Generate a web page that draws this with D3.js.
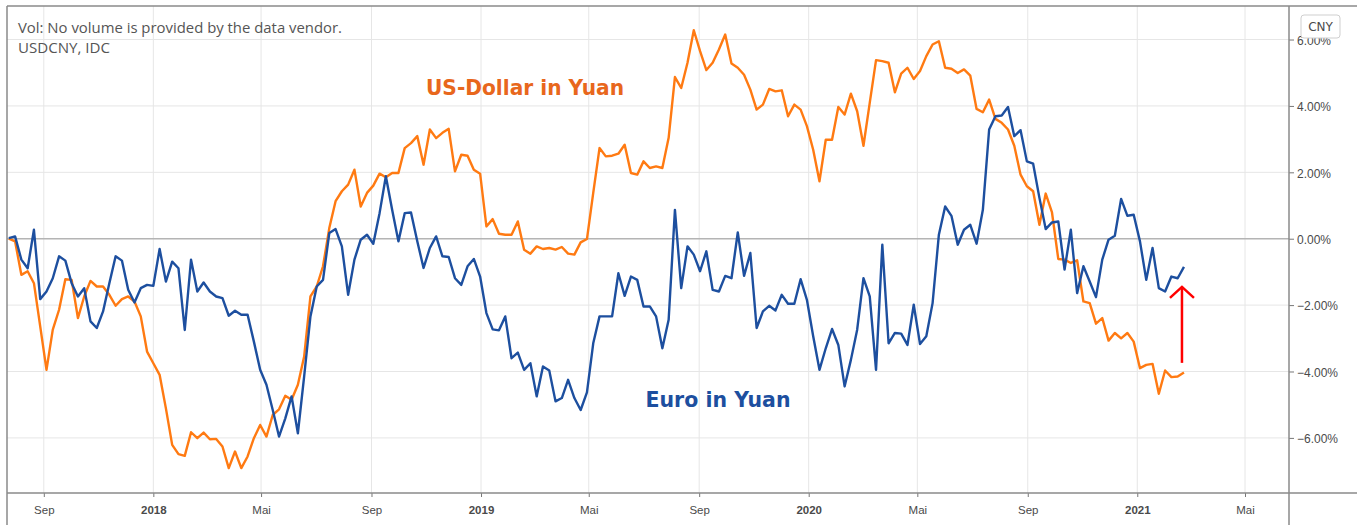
<!DOCTYPE html>
<html>
<head>
<meta charset="utf-8">
<script src="https://cdn.jsdelivr.net/npm/d3@7"></script>
<style>
  body { margin: 0; background: #fff; }
</style>
</head>
<body>
<div id="chart"></div>
<script>
// weekly closes, % change against the first week (late Jul 2017)
const startWeek = new Date(2017, 6, 24);

const usdCny = [
  0, -0.08, -1.09, -0.98, -1.34, -2.64, -3.95, -2.74, -2.14, -1.22,
  -1.24, -2.39, -1.74, -1.27, -1.44, -1.44, -1.69, -2.02, -1.82, -1.74,
  -1.89, -2.34, -3.40, -3.75, -4.10, -5.11, -6.21, -6.49, -6.54, -5.83,
  -6.01, -5.84, -6.04, -6.03, -6.26, -6.91, -6.41, -6.91, -6.56, -6.01,
  -5.61, -5.96, -5.31, -5.14, -4.73, -4.85, -4.40, -3.55, -1.74, -1.44,
  -0.83, 0.32, 1.13, 1.43, 1.63, 2.08, 0.97, 1.38, 1.60, 1.96,
  1.85, 1.98, 1.98, 2.73, 2.88, 3.09, 2.23, 3.29, 3.03, 3.19,
  3.31, 2.03, 2.53, 2.50, 2.08, 1.96, 0.37, 0.59, 0.15, 0.12,
  0.12, 0.52, -0.33, -0.45, -0.23, -0.31, -0.28, -0.33, -0.25, -0.45,
  -0.48, -0.11, -0.01, 1.38, 2.73, 2.48, 2.50, 2.56, 2.83, 1.98,
  1.93, 2.33, 2.13, 2.18, 2.13, 3.04, 4.87, 4.54, 5.30, 6.28,
  5.65, 5.08, 5.30, 5.70, 6.15, 5.28, 5.15, 4.94, 4.49, 3.89,
  4.04, 4.51, 4.44, 4.47, 3.69, 4.04, 3.89, 3.39, 2.68, 1.73,
  2.98, 2.98, 3.97, 3.74, 4.37, 3.84, 2.80, 4.09, 5.38, 5.35,
  5.30, 4.41, 4.97, 5.15, 4.81, 5.05, 5.50, 5.85, 5.95, 5.15,
  5.12, 4.99, 5.10, 4.91, 3.91, 3.81, 4.19, 3.61, 3.49, 3.29,
  2.80, 1.93, 1.58, 1.43, 0.42, 1.36, 0.79, -0.61, -0.63, -0.73,
  -0.65, -1.89, -1.94, -2.56, -2.39, -3.07, -2.84, -3.00, -2.84, -3.10,
  -3.90, -3.80, -3.77, -4.67, -3.97, -4.17, -4.15, -4.03
];

const eurCny = [
  0.02, 0.07, -0.63, -0.89, 0.27, -1.82, -1.59, -1.19, -0.53, -0.66,
  -1.34, -1.74, -1.49, -2.49, -2.69, -2.19, -1.34, -0.53, -0.66, -1.54,
  -1.92, -1.49, -1.39, -1.42, -0.31, -1.29, -0.69, -0.89, -2.75, -0.63,
  -1.59, -1.32, -1.59, -1.74, -1.79, -2.32, -2.17, -2.29, -2.29, -3.10,
  -3.95, -4.40, -5.16, -5.96, -5.41, -4.75, -5.86, -4.15, -2.34, -1.44,
  -1.24, 0.17, 0.29, -0.23, -1.69, -0.63, -0.03, 0.12, -0.15, 0.77,
  1.88, 0.87, -0.08, 0.77, 0.79, -0.08, -0.88, -0.28, 0.07, -0.53,
  -0.55, -1.19, -1.39, -0.83, -0.61, -1.14, -2.24, -2.73, -2.76, -2.34,
  -3.60, -3.43, -3.95, -3.75, -4.75, -3.85, -3.97, -4.90, -4.80, -4.25,
  -4.80, -5.16, -4.63, -3.15, -2.34, -2.34, -2.34, -1.04, -1.72, -1.14,
  -1.24, -2.04, -2.04, -2.34, -3.30, -2.44, 0.87, -1.49, -0.23, -0.48,
  -0.98, -0.38, -1.54, -1.59, -1.12, -1.19, 0.19, -1.12, -0.43, -2.69,
  -2.19, -2.02, -2.16, -1.69, -1.96, -1.96, -1.22, -1.84, -2.94, -3.95,
  -3.30, -2.72, -3.20, -4.45, -3.65, -2.74, -1.19, -1.74, -3.95, -0.18,
  -3.15, -2.84, -2.86, -3.20, -1.99, -3.17, -2.94, -1.94, 0.12, 0.97,
  0.69, -0.18, 0.27, 0.42, -0.15, 0.87, 3.29, 3.69, 3.71, 3.97,
  3.09, 3.27, 2.33, 2.26, 1.23, 0.29, 0.49, 0.52, -0.93, 0.27,
  -1.64, -0.83, -1.29, -1.76, -0.63, -0.03, 0.09, 1.20, 0.69, 0.72,
  -0.08, -1.24, -0.28, -1.49, -1.59, -1.14, -1.19, -0.85
];

const yTicks = [-6, -4, -2, 0, 2, 4, 6];
const xTicks = [
  new Date(2017, 8, 1), new Date(2018, 0, 1), new Date(2018, 4, 1), new Date(2018, 8, 1),
  new Date(2019, 0, 1), new Date(2019, 4, 1), new Date(2019, 8, 1), new Date(2020, 0, 1),
  new Date(2020, 4, 1), new Date(2020, 8, 1), new Date(2021, 0, 1), new Date(2021, 4, 1)
];
const monthLabels = { 4: 'Mai', 8: 'Sep' };

// text annotations, in data units
const seriesLabels = [
  { text: 'US-Dollar in Yuan', date: new Date(2019, 1, 19), value: 4.33, color: '#e8671c', len: 198 },
  { text: 'Euro in Yuan', date: new Date(2019, 8, 22), value: -5.07, color: '#1d4f9f', len: 145 }
];
const arrowFrom = -3.74;
const arrowTo = -1.45;

const weeks = usdCny.map((d, i) => d3.timeDay.offset(startWeek, 7 * i));

// layout
const width = 1357;
const height = 525;
const plot = { left: 7, right: 1289, top: 6, bottom: 493 };

const xScale = d3.scaleTime()
  .domain([new Date(2017, 6, 22), new Date(2021, 5, 19)])
  .range([plot.left, plot.right]);

const yScale = d3.scaleLinear()
  .domain([-7.66, 7.01])
  .range([plot.bottom, plot.top]);

const svg = d3.select('#chart')
  .append('svg')
  .attr('width', width)
  .attr('height', height)
  .style('font-family', '"DejaVu Sans", sans-serif');

svg.append('rect')
  .attr('width', width)
  .attr('height', height)
  .attr('fill', '#fff');

svg.append('clipPath')
  .attr('id', 'plot-clip')
  .append('rect')
  .attr('x', plot.left)
  .attr('y', plot.top)
  .attr('width', plot.right - plot.left)
  .attr('height', plot.bottom - plot.top);

// grid
svg.append('g')
  .selectAll('line')
  .data(xTicks)
  .join('line')
  .attr('x1', d => xScale(d))
  .attr('x2', d => xScale(d))
  .attr('y1', plot.top)
  .attr('y2', plot.bottom)
  .attr('stroke', '#e6e6e6')
  .attr('stroke-width', 1);

svg.append('g')
  .selectAll('line')
  .data(yTicks)
  .join('line')
  .attr('x1', plot.left)
  .attr('x2', plot.right)
  .attr('y1', d => yScale(d))
  .attr('y2', d => yScale(d))
  .attr('stroke', d => d === 0 ? '#b4b4b4' : '#e6e6e6')
  .attr('stroke-width', d => d === 0 ? 1.5 : 1);

// lines
const line = d3.line()
  .x((d, i) => xScale(weeks[i]))
  .y(d => yScale(d));

const lines = svg.append('g').attr('clip-path', 'url(#plot-clip)');

lines.append('path')
  .datum(usdCny)
  .attr('d', line)
  .attr('fill', 'none')
  .attr('stroke', '#ff7a12')
  .attr('stroke-width', 2.4)
  .attr('stroke-linejoin', 'round');

lines.append('path')
  .datum(eurCny)
  .attr('d', line)
  .attr('fill', 'none')
  .attr('stroke', '#1d4f9f')
  .attr('stroke-width', 2.4)
  .attr('stroke-linejoin', 'round');

// series labels
svg.append('g')
  .selectAll('text')
  .data(seriesLabels)
  .join('text')
  .attr('x', d => xScale(d.date))
  .attr('y', d => yScale(d.value))
  .attr('text-anchor', 'middle')
  .attr('textLength', d => d.len)
  .attr('lengthAdjust', 'spacingAndGlyphs')
  .style('font-size', '22px')
  .style('font-weight', 'bold')
  .style('fill', d => d.color)
  .text(d => d.text);

// red arrow at the last week
const ax = xScale(weeks[weeks.length - 1]) - 2;
const arrow = svg.append('g')
  .attr('stroke', '#ff0000')
  .attr('stroke-width', 2.5)
  .attr('fill', 'none');
arrow.append('line')
  .attr('x1', ax).attr('x2', ax)
  .attr('y1', yScale(arrowFrom))
  .attr('y2', yScale(arrowTo));
arrow.append('path')
  .attr('d', `M${ax - 12},${yScale(arrowTo) + 11} L${ax},${yScale(arrowTo)} L${ax + 12},${yScale(arrowTo) + 11}`);

// right axis
const yAxis = d3.axisRight(yScale)
  .tickValues(yTicks)
  .tickSize(5)
  .tickPadding(3)
  .tickFormat(d => d3.format('.2f')(d) + '%');

const yAxisG = svg.append('g')
  .attr('transform', `translate(${plot.right}, 0)`)
  .call(yAxis);
yAxisG.select('.domain').remove();
yAxisG.selectAll('line').attr('stroke', '#777');
yAxisG.selectAll('text')
  .attr('dy', '0.4em')
  .style('font-size', '12px')
  .style('fill', '#4a4a4a');

// bottom axis
const xAxis = d3.axisBottom(xScale)
  .tickValues(xTicks)
  .tickSize(4)
  .tickPadding(9)
  .tickFormat(d => d.getMonth() === 0 ? d.getFullYear() : monthLabels[d.getMonth()]);

const xAxisG = svg.append('g')
  .attr('transform', `translate(0, ${plot.bottom})`)
  .call(xAxis);
xAxisG.select('.domain').remove();
xAxisG.selectAll('line').attr('stroke', '#777');
xAxisG.selectAll('text')
  .style('font-size', '11.5px')
  .style('fill', '#4a4a4a')
  .style('font-weight', d => d.getMonth() === 0 ? 'bold' : 'normal');

// frame
const frame = svg.append('g').attr('stroke', '#8a8a8a').attr('stroke-width', 1.5);
frame.append('line').attr('x1', plot.left).attr('x2', width).attr('y1', plot.top).attr('y2', plot.top);
frame.append('line').attr('x1', plot.left).attr('x2', width).attr('y1', plot.bottom).attr('y2', plot.bottom);
frame.append('line').attr('x1', plot.left).attr('x2', plot.left).attr('y1', plot.top).attr('y2', height);
frame.append('line').attr('x1', plot.right).attr('x2', plot.right).attr('y1', plot.top).attr('y2', height);

// currency badge (covers the top of the 6.00% label, as in the original)
svg.append('rect')
  .attr('x', plot.right + 12)
  .attr('y', 15)
  .attr('width', 39)
  .attr('height', 23)
  .attr('rx', 3)
  .attr('fill', '#fff')
  .attr('stroke', '#cfcfcf');
svg.append('text')
  .attr('x', plot.right + 31.5)
  .attr('y', 31)
  .attr('text-anchor', 'middle')
  .style('font-size', '12px')
  .style('fill', '#4a4a4a')
  .text('CNY');

// header text
svg.append('text')
  .attr('x', 18)
  .attr('y', 33)
  .attr('textLength', 324)
  .attr('lengthAdjust', 'spacingAndGlyphs')
  .style('font-family', '"Open Sans", sans-serif')
  .style('font-size', '14px')
  .style('fill', '#555')
  .text('Vol: No volume is provided by the data vendor.');

svg.append('text')
  .attr('x', 18)
  .attr('y', 53)
  .attr('textLength', 92)
  .attr('lengthAdjust', 'spacingAndGlyphs')
  .style('font-family', '"Open Sans", sans-serif')
  .style('font-size', '14px')
  .style('fill', '#555')
  .text('USDCNY, IDC');
</script>
</body>
</html>
